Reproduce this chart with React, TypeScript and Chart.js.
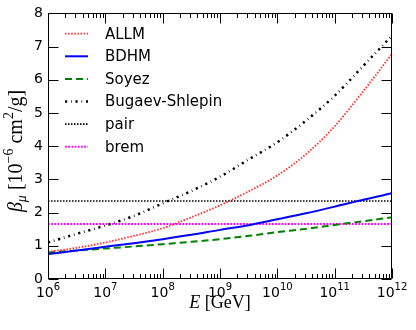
import React, { useEffect, useRef } from "react";
import { Chart, registerables } from "chart.js";

Chart.register(...registerables);

// Energies in GeV (half-decade sampling)
const energiesGeV = [1e6, 3.16e6, 1e7, 3.16e7, 1e8, 3.16e8, 1e9, 3.16e9, 1e10, 3.16e10, 1e11, 3.16e11, 1e12];
// beta_mu in 1e-6 cm^2/g
const allmValues = [0.82, 0.94, 1.1, 1.3, 1.53, 1.86, 2.22, 2.64, 3.12, 3.76, 4.6, 5.66, 6.78];
const bdhmValues = [0.75, 0.86, 0.97, 1.08, 1.2, 1.33, 1.48, 1.62, 1.8, 1.98, 2.18, 2.39, 2.58];
const soyezValues = [0.8, 0.86, 0.92, 0.98, 1.05, 1.12, 1.2, 1.3, 1.41, 1.51, 1.63, 1.74, 1.86];
const bugaevValues = [1.1, 1.36, 1.61, 1.9, 2.28, 2.65, 3.08, 3.6, 4.12, 4.77, 5.52, 6.42, 7.33];
const flatEnergies = [1e6, 1e12];
const pairValues = [2.35, 2.35];
const bremValues = [1.66, 1.66];

const seriesLabels = ["ALLM", "BDHM", "Soyez", "Bugaev-Shlepin", "pair", "brem"];
const xMajorTicks = [1e6, 1e7, 1e8, 1e9, 1e10, 1e11, 1e12];
const xTickExponents = ["6", "7", "8", "9", "10", "11", "12"];
const yTicks = [0, 1, 2, 3, 4, 5, 6, 7, 8];

const SANS = "'DejaVu Sans', sans-serif";
const SERIF = "'Liberation Serif', 'DejaVu Serif', serif";

function pts(xs: number[], ys: number[]) {
  return xs.map((x, i) => ({ x, y: ys[i] }));
}

const decorPlugin = {
  id: "decor",
  afterDatasetsDraw(chart: any) {
    const { ctx, chartArea: a, scales } = chart;
    const xs = scales.x;
    const ys = scales.y;
    const L = Math.round(a.left) + 0.5;
    const R = Math.round(a.right) - 0.5;
    const T = Math.round(a.top) + 0.5;
    const B = Math.round(a.bottom) - 0.5;
    ctx.save();
    ctx.setLineDash([]);
    ctx.strokeStyle = "#000";
    ctx.lineWidth = 1;
    // frame
    ctx.beginPath();
    ctx.rect(L, T, R - L, B - T);
    ctx.stroke();
    // y ticks (inward, both sides)
    const majorLen = 10;
    const minorLen = 4.5;
    ctx.beginPath();
    yTicks.forEach((v) => {
      const py = Math.round(ys.getPixelForValue(v)) + 0.5;
      ctx.moveTo(L, py);
      ctx.lineTo(L + majorLen, py);
      ctx.moveTo(R, py);
      ctx.lineTo(R - majorLen, py);
    });
    // x ticks
    xMajorTicks.forEach((v, i) => {
      const px = Math.round(xs.getPixelForValue(v)) + 0.5;
      ctx.moveTo(px, B);
      ctx.lineTo(px, B - majorLen);
      ctx.moveTo(px, T);
      ctx.lineTo(px, T + majorLen);
      if (i < xMajorTicks.length - 1) {
        for (let k = 2; k <= 9; k++) {
          const mx = Math.round(xs.getPixelForValue(v * k)) + 0.5;
          ctx.moveTo(mx, B);
          ctx.lineTo(mx, B - minorLen);
          ctx.moveTo(mx, T);
          ctx.lineTo(mx, T + minorLen);
        }
      }
    });
    ctx.stroke();

    // x tick labels 10^n
    ctx.fillStyle = "#000";
    ctx.textBaseline = "alphabetic";
    ctx.textAlign = "left";
    xMajorTicks.forEach((v, i) => {
      const px = xs.getPixelForValue(v);
      ctx.font = `14px ${SANS}`;
      const wBase = ctx.measureText("10").width;
      ctx.font = `10px ${SANS}`;
      const wExp = ctx.measureText(xTickExponents[i]).width;
      const start = px - (wBase + wExp) / 2;
      ctx.font = `14px ${SANS}`;
      ctx.fillText("10", start, a.bottom + 18);
      ctx.font = `10px ${SANS}`;
      ctx.fillText(xTickExponents[i], start + wBase, a.bottom + 11);
    });

    // x title: E [GeV]
    const cx = (a.left + a.right) / 2;
    ctx.font = `italic 18px ${SERIF}`;
    const wE = ctx.measureText("E").width;
    ctx.font = `18px ${SERIF}`;
    const rest = " [GeV]";
    const wR = ctx.measureText(rest).width;
    const sx = cx - (wE + wR) / 2;
    ctx.font = `italic 18px ${SERIF}`;
    ctx.fillText("E", sx, a.bottom + 29);
    ctx.font = `18px ${SERIF}`;
    ctx.fillText(rest, sx + wE, a.bottom + 29);

    // y title rotated
    const segs: [string, string, number][] = [
      ["β", `italic 20px ${SERIF}`, 0],
      ["μ", `italic 14px ${SERIF}`, 4],
      [" [10", `20px ${SERIF}`, 0],
      ["−6", `14px ${SERIF}`, -9],
      [" cm", `20px ${SERIF}`, 0],
      ["2", `14px ${SERIF}`, -9],
      ["/g]", `20px ${SERIF}`, 0],
    ];
    let total = 0;
    segs.forEach(([t, f]) => {
      ctx.font = f;
      total += ctx.measureText(t).width;
    });
    const cy = 151;
    ctx.translate(22, cy);
    ctx.rotate(-Math.PI / 2);
    let ox = -total / 2;
    segs.forEach(([t, f, dy]) => {
      ctx.font = f;
      ctx.fillText(t, ox, dy);
      ox += ctx.measureText(t).width;
    });
    ctx.setTransform(1, 0, 0, 1, 0, 0);

    // legend
    const rowH = 22.6;
    const top0 = a.top + 20.3;
    chart.data.datasets.forEach((ds: any, i: number) => {
      const yy = top0 + i * rowH;
      ctx.save();
      ctx.strokeStyle = ds.borderColor;
      ctx.lineWidth = ds.borderWidth;
      ctx.setLineDash(ds.borderDash || []);
      ctx.lineCap = ds.borderCapStyle || "butt";
      ctx.beginPath();
      ctx.moveTo(a.left + 17, yy);
      ctx.lineTo(a.left + 40, yy);
      ctx.stroke();
      ctx.restore();
      ctx.fillStyle = "#000";
      ctx.font = `15px ${SANS}`;
      ctx.textBaseline = "middle";
      ctx.fillText(ds.label, a.left + 57, yy + 1);
    });
    ctx.restore();
  },
};

export default function App() {
  const ref = useRef<HTMLCanvasElement | null>(null);
  useEffect(() => {
    document.body.style.margin = "0";
    const canvas = ref.current;
    if (!canvas) return;
    const common = { pointRadius: 0, fill: false, cubicInterpolationMode: "monotone" as const };
    const chart = new Chart(canvas, {
      type: "line",
      data: {
        datasets: [
          { label: seriesLabels[0], data: pts(energiesGeV, allmValues), borderColor: "#ff2a2a", borderWidth: 1.8, borderDash: [1.5, 1.6], ...common },
          { label: seriesLabels[1], data: pts(energiesGeV, bdhmValues), borderColor: "#0000ff", borderWidth: 2, ...common },
          { label: seriesLabels[2], data: pts(energiesGeV, soyezValues), borderColor: "#008000", borderWidth: 2, borderDash: [7, 4], ...common },
          { label: seriesLabels[3], data: pts(energiesGeV, bugaevValues), borderColor: "#000000", borderWidth: 2.5, borderDash: [2.2, 3.8, 0.7, 3.8], ...common },
          { label: seriesLabels[4], data: pts(flatEnergies, pairValues), borderColor: "#000000", borderWidth: 1.6, borderDash: [1.5, 1.5], ...common },
          { label: seriesLabels[5], data: pts(flatEnergies, bremValues), borderColor: "#ff00ff", borderWidth: 2, borderDash: [1.8, 1.4], ...common },
        ],
      },
      options: {
        responsive: false,
        animation: false,
        devicePixelRatio: 1,
        layout: { padding: { top: 13, right: 24, left: 0, bottom: 0 } },
        plugins: { legend: { display: false }, tooltip: { enabled: false } },
        scales: {
          x: {
            type: "logarithmic",
            min: 1e6,
            max: 1e12,
            ticks: { display: false },
            grid: { display: false, drawTicks: false },
            border: { display: false },
            afterFit: (s: any) => {
              s.height = 51;
            },
          },
          y: {
            min: 0,
            max: 8,
            ticks: { stepSize: 1, color: "#000", padding: 5, font: { family: SANS, size: 14 } },
            grid: { display: false, drawTicks: false },
            border: { display: false },
            afterFit: (s: any) => {
              s.width = 48;
            },
          },
        },
      },
      plugins: [decorPlugin],
    });
    return () => chart.destroy();
  }, []);
  return (
    <div style={{ width: 416, height: 330 }}>
      <canvas ref={ref} width={416} height={330} style={{ display: "block" }} />
    </div>
  );
}
